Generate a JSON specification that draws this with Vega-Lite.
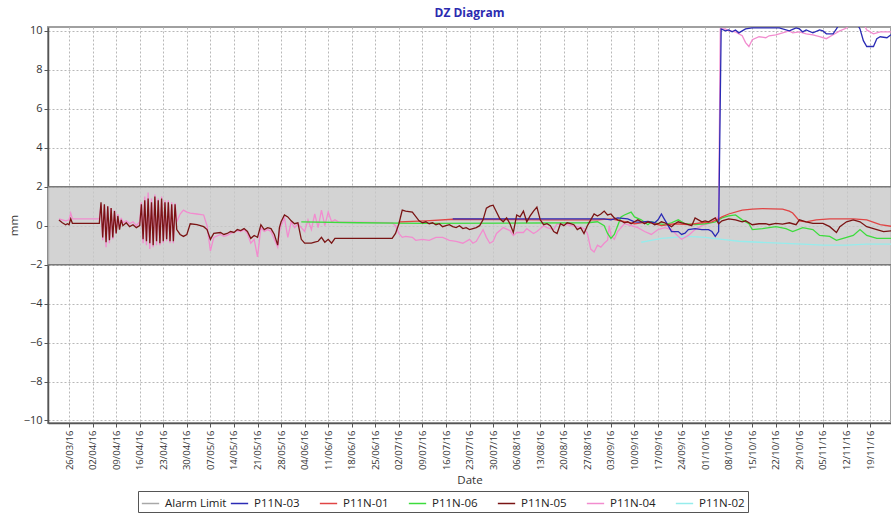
{
"$schema": "https://vega.github.io/schema/vega-lite/v6.json",
"width": 843, "height": 396,
"autosize": {"type": "none"},
"padding": {"left": 48, "top": 27, "right": 0, "bottom": 92},
"background": "white",
"config": {"font": "Open Sans", "view": {"stroke": "#a0a0a0", "strokeWidth": 2}, "axis": {"labelOverlap": false, "labelBound": false}},
"title": {"text": "DZ Diagram", "fontSize": 12, "fontWeight": "bold", "color": "#2b2bb0", "anchor": "middle", "offset": 5},
"datasets": {"series": [
{"s":"P11N-02","d":"2016-09-12","v":-0.85},{"s":"P11N-02","d":"2016-09-15","v":-0.75},{"s":"P11N-02","d":"2016-09-18","v":-0.65},{"s":"P11N-02","d":"2016-09-22","v":-0.6},{"s":"P11N-02","d":"2016-09-26","v":-0.55},{"s":"P11N-02","d":"2016-10-01","v":-0.6},{"s":"P11N-02","d":"2016-10-06","v":-0.7},{"s":"P11N-02","d":"2016-10-11","v":-0.8},{"s":"P11N-02","d":"2016-10-17","v":-0.85},{"s":"P11N-02","d":"2016-10-23","v":-0.9},{"s":"P11N-02","d":"2016-10-30","v":-0.95},{"s":"P11N-02","d":"2016-11-05","v":-1.0},{"s":"P11N-02","d":"2016-11-12","v":-1.0},{"s":"P11N-02","d":"2016-11-18","v":-0.95},{"s":"P11N-02","d":"2016-11-26","v":-0.95},
{"s":"P11N-04","d":"2016-03-23","v":0.35},{"s":"P11N-04","d":"2016-03-24","v":0.3},{"s":"P11N-04","d":"2016-03-25","v":0.25},{"s":"P11N-04","d":"2016-03-26","v":0.3},{"s":"P11N-04","d":"2016-03-26T12:00Z","v":0.65},{"s":"P11N-04","d":"2016-03-27","v":0.35},{"s":"P11N-04","d":"2016-04-04","v":0.35},{"s":"P11N-04","d":"2016-04-04T12:00Z","v":1.1},{"s":"P11N-04","d":"2016-04-05","v":-0.75},{"s":"P11N-04","d":"2016-04-05T12:00Z","v":1.05},{"s":"P11N-04","d":"2016-04-06","v":-1.1},{"s":"P11N-04","d":"2016-04-06T12:00Z","v":1.0},{"s":"P11N-04","d":"2016-04-07","v":-0.9},{"s":"P11N-04","d":"2016-04-07T12:00Z","v":0.9},{"s":"P11N-04","d":"2016-04-08","v":-0.7},{"s":"P11N-04","d":"2016-04-08T12:00Z","v":0.8},{"s":"P11N-04","d":"2016-04-09","v":-0.4},{"s":"P11N-04","d":"2016-04-09T12:00Z","v":0.6},{"s":"P11N-04","d":"2016-04-10","v":-0.1},{"s":"P11N-04","d":"2016-04-10T12:00Z","v":0.4},{"s":"P11N-04","d":"2016-04-11","v":0.15},{"s":"P11N-04","d":"2016-04-12","v":0.25},{"s":"P11N-04","d":"2016-04-13","v":0.1},{"s":"P11N-04","d":"2016-04-14","v":0.2},{"s":"P11N-04","d":"2016-04-15","v":0.0},{"s":"P11N-04","d":"2016-04-16","v":0.2},{"s":"P11N-04","d":"2016-04-16T12:00Z","v":1.2},{"s":"P11N-04","d":"2016-04-17","v":-0.9},{"s":"P11N-04","d":"2016-04-17T12:00Z","v":1.5},{"s":"P11N-04","d":"2016-04-18","v":-1.0},{"s":"P11N-04","d":"2016-04-18T12:00Z","v":1.7},{"s":"P11N-04","d":"2016-04-19","v":-1.2},{"s":"P11N-04","d":"2016-04-19T12:00Z","v":1.4},{"s":"P11N-04","d":"2016-04-20","v":-1.1},{"s":"P11N-04","d":"2016-04-20T12:00Z","v":1.6},{"s":"P11N-04","d":"2016-04-21","v":-1.0},{"s":"P11N-04","d":"2016-04-21T12:00Z","v":1.4},{"s":"P11N-04","d":"2016-04-22","v":-1.0},{"s":"P11N-04","d":"2016-04-22T12:00Z","v":1.5},{"s":"P11N-04","d":"2016-04-23","v":-0.9},{"s":"P11N-04","d":"2016-04-23T12:00Z","v":1.3},{"s":"P11N-04","d":"2016-04-24","v":-0.8},{"s":"P11N-04","d":"2016-04-24T12:00Z","v":1.3},{"s":"P11N-04","d":"2016-04-25","v":-0.9},{"s":"P11N-04","d":"2016-04-25T12:00Z","v":1.2},{"s":"P11N-04","d":"2016-04-26","v":-0.9},{"s":"P11N-04","d":"2016-04-26T12:00Z","v":1.15},{"s":"P11N-04","d":"2016-04-27","v":0.2},{"s":"P11N-04","d":"2016-04-28","v":0.6},{"s":"P11N-04","d":"2016-04-29","v":0.8},{"s":"P11N-04","d":"2016-04-30","v":0.7},{"s":"P11N-04","d":"2016-05-01","v":0.65},{"s":"P11N-04","d":"2016-05-03","v":0.6},{"s":"P11N-04","d":"2016-05-05","v":0.55},{"s":"P11N-04","d":"2016-05-06","v":0.0},{"s":"P11N-04","d":"2016-05-07","v":-1.3},{"s":"P11N-04","d":"2016-05-08","v":-0.6},{"s":"P11N-04","d":"2016-05-10","v":-0.45},{"s":"P11N-04","d":"2016-05-11","v":-0.55},{"s":"P11N-04","d":"2016-05-12","v":-0.5},{"s":"P11N-04","d":"2016-05-13","v":-0.4},{"s":"P11N-04","d":"2016-05-14","v":-0.35},{"s":"P11N-04","d":"2016-05-15","v":-0.25},{"s":"P11N-04","d":"2016-05-16","v":-0.3},{"s":"P11N-04","d":"2016-05-17","v":-0.2},{"s":"P11N-04","d":"2016-05-18","v":-0.4},{"s":"P11N-04","d":"2016-05-19","v":-0.9},{"s":"P11N-04","d":"2016-05-20","v":-0.7},{"s":"P11N-04","d":"2016-05-21","v":-1.6},{"s":"P11N-04","d":"2016-05-22","v":-0.1},{"s":"P11N-04","d":"2016-05-23","v":-0.3},{"s":"P11N-04","d":"2016-05-24","v":-0.2},{"s":"P11N-04","d":"2016-05-25","v":-0.3},{"s":"P11N-04","d":"2016-05-26","v":-0.7},{"s":"P11N-04","d":"2016-05-27","v":-1.1},{"s":"P11N-04","d":"2016-05-27T12:00Z","v":-0.3},{"s":"P11N-04","d":"2016-05-28","v":0.0},{"s":"P11N-04","d":"2016-05-29","v":0.4},{"s":"P11N-04","d":"2016-05-30","v":-0.6},{"s":"P11N-04","d":"2016-05-31","v":0.2},{"s":"P11N-04","d":"2016-06-01","v":-0.1},{"s":"P11N-04","d":"2016-06-02","v":0.1},{"s":"P11N-04","d":"2016-06-03","v":-0.1},{"s":"P11N-04","d":"2016-06-04","v":-0.3},{"s":"P11N-04","d":"2016-06-05","v":0.3},{"s":"P11N-04","d":"2016-06-06","v":-0.2},{"s":"P11N-04","d":"2016-06-07","v":0.6},{"s":"P11N-04","d":"2016-06-08","v":-0.1},{"s":"P11N-04","d":"2016-06-09","v":0.8},{"s":"P11N-04","d":"2016-06-10","v":0.0},{"s":"P11N-04","d":"2016-06-11","v":0.7},{"s":"P11N-04","d":"2016-06-12","v":0.2},{"s":"P11N-04","d":"2016-06-13","v":0.3},{"s":"P11N-04","d":"2016-06-14","v":0.2},{"s":"P11N-04","d":"2016-06-30","v":0.15},{"s":"P11N-04","d":"2016-07-01","v":0.0},{"s":"P11N-04","d":"2016-07-02","v":-0.4},{"s":"P11N-04","d":"2016-07-03","v":-0.6},{"s":"P11N-04","d":"2016-07-04","v":-0.55},{"s":"P11N-04","d":"2016-07-06","v":-0.6},{"s":"P11N-04","d":"2016-07-07","v":-0.75},{"s":"P11N-04","d":"2016-07-09","v":-0.7},{"s":"P11N-04","d":"2016-07-11","v":-0.75},{"s":"P11N-04","d":"2016-07-13","v":-0.6},{"s":"P11N-04","d":"2016-07-15","v":-0.6},{"s":"P11N-04","d":"2016-07-17","v":-0.75},{"s":"P11N-04","d":"2016-07-19","v":-0.8},{"s":"P11N-04","d":"2016-07-21","v":-0.9},{"s":"P11N-04","d":"2016-07-23","v":-0.7},{"s":"P11N-04","d":"2016-07-24","v":-0.9},{"s":"P11N-04","d":"2016-07-25","v":-0.8},{"s":"P11N-04","d":"2016-07-27","v":-0.2},{"s":"P11N-04","d":"2016-07-28","v":-0.6},{"s":"P11N-04","d":"2016-07-29","v":-0.9},{"s":"P11N-04","d":"2016-07-30","v":-0.8},{"s":"P11N-04","d":"2016-07-31","v":-0.4},{"s":"P11N-04","d":"2016-08-02","v":-0.1},{"s":"P11N-04","d":"2016-08-04","v":-0.25},{"s":"P11N-04","d":"2016-08-05","v":-0.5},{"s":"P11N-04","d":"2016-08-06","v":-0.35},{"s":"P11N-04","d":"2016-08-08","v":-0.35},{"s":"P11N-04","d":"2016-08-09","v":-0.15},{"s":"P11N-04","d":"2016-08-11","v":-0.4},{"s":"P11N-04","d":"2016-08-12","v":-0.3},{"s":"P11N-04","d":"2016-08-14","v":0.0},{"s":"P11N-04","d":"2016-08-15","v":-0.1},{"s":"P11N-04","d":"2016-08-17","v":-0.2},{"s":"P11N-04","d":"2016-08-18","v":0.1},{"s":"P11N-04","d":"2016-08-21","v":0.05},{"s":"P11N-04","d":"2016-08-24","v":-0.05},{"s":"P11N-04","d":"2016-08-26","v":-0.15},{"s":"P11N-04","d":"2016-08-27","v":-0.4},{"s":"P11N-04","d":"2016-08-28","v":-1.2},{"s":"P11N-04","d":"2016-08-29","v":-1.35},{"s":"P11N-04","d":"2016-08-30","v":-1.0},{"s":"P11N-04","d":"2016-08-31","v":-1.1},{"s":"P11N-04","d":"2016-09-01","v":-0.9},{"s":"P11N-04","d":"2016-09-02","v":-0.75},{"s":"P11N-04","d":"2016-09-02T12:00Z","v":0.0},{"s":"P11N-04","d":"2016-09-03","v":-0.5},{"s":"P11N-04","d":"2016-09-04","v":-0.7},{"s":"P11N-04","d":"2016-09-05","v":-0.3},{"s":"P11N-04","d":"2016-09-07","v":0.1},{"s":"P11N-04","d":"2016-09-09","v":0.0},{"s":"P11N-04","d":"2016-09-11","v":-0.1},{"s":"P11N-04","d":"2016-09-13","v":-0.3},{"s":"P11N-04","d":"2016-09-15","v":-0.45},{"s":"P11N-04","d":"2016-09-17","v":-0.2},{"s":"P11N-04","d":"2016-09-19","v":-0.1},{"s":"P11N-04","d":"2016-09-21","v":-0.2},{"s":"P11N-04","d":"2016-09-23","v":-0.55},{"s":"P11N-04","d":"2016-09-24","v":-0.7},{"s":"P11N-04","d":"2016-09-26","v":-0.5},{"s":"P11N-04","d":"2016-09-28","v":-0.2},{"s":"P11N-04","d":"2016-09-30","v":0.0},{"s":"P11N-04","d":"2016-10-02","v":0.1},{"s":"P11N-04","d":"2016-10-04","v":0.3},{"s":"P11N-04","d":"2016-10-05","v":0.5},{"s":"P11N-04","d":"2016-10-05T12:00Z","v":10.1},{"s":"P11N-04","d":"2016-10-07","v":10.1},{"s":"P11N-04","d":"2016-10-08","v":10.0},{"s":"P11N-04","d":"2016-10-10","v":9.95},{"s":"P11N-04","d":"2016-10-12","v":9.75},{"s":"P11N-04","d":"2016-10-13","v":9.4},{"s":"P11N-04","d":"2016-10-14","v":9.2},{"s":"P11N-04","d":"2016-10-15","v":9.55},{"s":"P11N-04","d":"2016-10-17","v":9.7},{"s":"P11N-04","d":"2016-10-19","v":9.65},{"s":"P11N-04","d":"2016-10-20","v":9.75},{"s":"P11N-04","d":"2016-10-22","v":9.8},{"s":"P11N-04","d":"2016-10-24","v":9.9},{"s":"P11N-04","d":"2016-10-26","v":10.0},{"s":"P11N-04","d":"2016-10-27","v":9.9},{"s":"P11N-04","d":"2016-10-29","v":9.95},{"s":"P11N-04","d":"2016-10-31","v":9.85},{"s":"P11N-04","d":"2016-11-02","v":9.8},{"s":"P11N-04","d":"2016-11-04","v":9.7},{"s":"P11N-04","d":"2016-11-06","v":9.6},{"s":"P11N-04","d":"2016-11-08","v":9.8},{"s":"P11N-04","d":"2016-11-10","v":10.0},{"s":"P11N-04","d":"2016-11-12","v":10.15},{"s":"P11N-04","d":"2016-11-13","v":10.4},{"s":"P11N-04","d":"2016-11-17","v":10.4},{"s":"P11N-04","d":"2016-11-18","v":10.05},{"s":"P11N-04","d":"2016-11-20","v":9.85},{"s":"P11N-04","d":"2016-11-22","v":9.95},{"s":"P11N-04","d":"2016-11-26","v":9.95},
{"s":"P11N-06","d":"2016-06-03","v":0.2},{"s":"P11N-06","d":"2016-06-20","v":0.15},{"s":"P11N-06","d":"2016-07-10","v":0.12},{"s":"P11N-06","d":"2016-08-27","v":0.15},{"s":"P11N-06","d":"2016-08-30","v":0.2},{"s":"P11N-06","d":"2016-09-01","v":0.0},{"s":"P11N-06","d":"2016-09-02","v":-0.4},{"s":"P11N-06","d":"2016-09-03","v":-0.65},{"s":"P11N-06","d":"2016-09-04","v":-0.45},{"s":"P11N-06","d":"2016-09-05","v":0.0},{"s":"P11N-06","d":"2016-09-06","v":0.45},{"s":"P11N-06","d":"2016-09-07","v":0.55},{"s":"P11N-06","d":"2016-09-09","v":0.7},{"s":"P11N-06","d":"2016-09-10","v":0.45},{"s":"P11N-06","d":"2016-09-12","v":0.3},{"s":"P11N-06","d":"2016-09-14","v":0.05},{"s":"P11N-06","d":"2016-09-15","v":0.2},{"s":"P11N-06","d":"2016-09-17","v":0.1},{"s":"P11N-06","d":"2016-09-19","v":0.05},{"s":"P11N-06","d":"2016-09-21","v":0.15},{"s":"P11N-06","d":"2016-09-23","v":0.3},{"s":"P11N-06","d":"2016-09-25","v":0.1},{"s":"P11N-06","d":"2016-09-28","v":0.05},{"s":"P11N-06","d":"2016-10-01","v":0.1},{"s":"P11N-06","d":"2016-10-04","v":0.2},{"s":"P11N-06","d":"2016-10-06","v":0.4},{"s":"P11N-06","d":"2016-10-08","v":0.5},{"s":"P11N-06","d":"2016-10-10","v":0.55},{"s":"P11N-06","d":"2016-10-12","v":0.3},{"s":"P11N-06","d":"2016-10-14","v":0.1},{"s":"P11N-06","d":"2016-10-15","v":-0.2},{"s":"P11N-06","d":"2016-10-18","v":-0.15},{"s":"P11N-06","d":"2016-10-22","v":-0.05},{"s":"P11N-06","d":"2016-10-25","v":-0.15},{"s":"P11N-06","d":"2016-10-27","v":-0.3},{"s":"P11N-06","d":"2016-10-30","v":-0.1},{"s":"P11N-06","d":"2016-11-02","v":-0.2},{"s":"P11N-06","d":"2016-11-04","v":-0.5},{"s":"P11N-06","d":"2016-11-07","v":-0.55},{"s":"P11N-06","d":"2016-11-09","v":-0.75},{"s":"P11N-06","d":"2016-11-11","v":-0.65},{"s":"P11N-06","d":"2016-11-14","v":-0.5},{"s":"P11N-06","d":"2016-11-16","v":-0.2},{"s":"P11N-06","d":"2016-11-18","v":-0.5},{"s":"P11N-06","d":"2016-11-21","v":-0.65},{"s":"P11N-06","d":"2016-11-26","v":-0.65},
{"s":"P11N-01","d":"2016-07-02","v":0.2},{"s":"P11N-01","d":"2016-07-10","v":0.25},{"s":"P11N-01","d":"2016-07-18","v":0.33},{"s":"P11N-01","d":"2016-08-15","v":0.3},{"s":"P11N-01","d":"2016-08-30","v":0.3},{"s":"P11N-01","d":"2016-09-03","v":0.35},{"s":"P11N-01","d":"2016-09-06","v":0.25},{"s":"P11N-01","d":"2016-09-10","v":0.1},{"s":"P11N-01","d":"2016-09-14","v":0.2},{"s":"P11N-01","d":"2016-09-18","v":0.0},{"s":"P11N-01","d":"2016-09-22","v":0.1},{"s":"P11N-01","d":"2016-09-26","v":0.05},{"s":"P11N-01","d":"2016-09-30","v":0.15},{"s":"P11N-01","d":"2016-10-03","v":0.2},{"s":"P11N-01","d":"2016-10-05","v":0.35},{"s":"P11N-01","d":"2016-10-06","v":0.45},{"s":"P11N-01","d":"2016-10-08","v":0.6},{"s":"P11N-01","d":"2016-10-12","v":0.8},{"s":"P11N-01","d":"2016-10-15","v":0.85},{"s":"P11N-01","d":"2016-10-18","v":0.88},{"s":"P11N-01","d":"2016-10-21","v":0.86},{"s":"P11N-01","d":"2016-10-24","v":0.85},{"s":"P11N-01","d":"2016-10-26","v":0.75},{"s":"P11N-01","d":"2016-10-27","v":0.65},{"s":"P11N-01","d":"2016-10-29","v":0.25},{"s":"P11N-01","d":"2016-10-31","v":0.2},{"s":"P11N-01","d":"2016-11-03","v":0.3},{"s":"P11N-01","d":"2016-11-07","v":0.35},{"s":"P11N-01","d":"2016-11-14","v":0.35},{"s":"P11N-01","d":"2016-11-18","v":0.3},{"s":"P11N-01","d":"2016-11-22","v":0.05},{"s":"P11N-01","d":"2016-11-26","v":-0.05},
{"s":"P11N-03","d":"2016-07-18","v":0.35},{"s":"P11N-03","d":"2016-08-30","v":0.35},{"s":"P11N-03","d":"2016-09-01","v":0.35},{"s":"P11N-03","d":"2016-09-03","v":0.3},{"s":"P11N-03","d":"2016-09-05","v":0.4},{"s":"P11N-03","d":"2016-09-08","v":0.35},{"s":"P11N-03","d":"2016-09-10","v":0.2},{"s":"P11N-03","d":"2016-09-12","v":0.18},{"s":"P11N-03","d":"2016-09-14","v":0.22},{"s":"P11N-03","d":"2016-09-16","v":0.15},{"s":"P11N-03","d":"2016-09-17","v":0.3},{"s":"P11N-03","d":"2016-09-18","v":0.6},{"s":"P11N-03","d":"2016-09-19","v":0.3},{"s":"P11N-03","d":"2016-09-20","v":0.0},{"s":"P11N-03","d":"2016-09-21","v":-0.3},{"s":"P11N-03","d":"2016-09-23","v":-0.3},{"s":"P11N-03","d":"2016-09-24","v":-0.45},{"s":"P11N-03","d":"2016-09-25","v":-0.38},{"s":"P11N-03","d":"2016-09-26","v":-0.2},{"s":"P11N-03","d":"2016-09-28","v":-0.15},{"s":"P11N-03","d":"2016-09-30","v":-0.2},{"s":"P11N-03","d":"2016-10-02","v":-0.2},{"s":"P11N-03","d":"2016-10-03","v":-0.3},{"s":"P11N-03","d":"2016-10-04","v":-0.55},{"s":"P11N-03","d":"2016-10-05","v":-0.3},{"s":"P11N-03","d":"2016-10-05T18:00Z","v":10.1},{"s":"P11N-03","d":"2016-10-07","v":10.0},{"s":"P11N-03","d":"2016-10-08","v":10.05},{"s":"P11N-03","d":"2016-10-09","v":9.95},{"s":"P11N-03","d":"2016-10-10","v":10.05},{"s":"P11N-03","d":"2016-10-11","v":9.9},{"s":"P11N-03","d":"2016-10-12","v":10.0},{"s":"P11N-03","d":"2016-10-13","v":10.1},{"s":"P11N-03","d":"2016-10-15","v":10.15},{"s":"P11N-03","d":"2016-10-19","v":10.15},{"s":"P11N-03","d":"2016-10-23","v":10.15},{"s":"P11N-03","d":"2016-10-26","v":10.0},{"s":"P11N-03","d":"2016-10-27","v":10.08},{"s":"P11N-03","d":"2016-10-28","v":10.15},{"s":"P11N-03","d":"2016-10-29","v":10.1},{"s":"P11N-03","d":"2016-10-30","v":9.95},{"s":"P11N-03","d":"2016-10-31","v":10.05},{"s":"P11N-03","d":"2016-11-02","v":9.9},{"s":"P11N-03","d":"2016-11-04","v":10.05},{"s":"P11N-03","d":"2016-11-05","v":10.0},{"s":"P11N-03","d":"2016-11-06","v":9.85},{"s":"P11N-03","d":"2016-11-08","v":9.85},{"s":"P11N-03","d":"2016-11-09","v":10.1},{"s":"P11N-03","d":"2016-11-10","v":10.4},{"s":"P11N-03","d":"2016-11-15","v":10.4},{"s":"P11N-03","d":"2016-11-16","v":10.1},{"s":"P11N-03","d":"2016-11-17","v":9.5},{"s":"P11N-03","d":"2016-11-18","v":9.2},{"s":"P11N-03","d":"2016-11-20","v":9.2},{"s":"P11N-03","d":"2016-11-21","v":9.6},{"s":"P11N-03","d":"2016-11-22","v":9.7},{"s":"P11N-03","d":"2016-11-24","v":9.65},{"s":"P11N-03","d":"2016-11-26","v":9.9},
{"s":"P11N-05","d":"2016-03-23","v":0.29},{"s":"P11N-05","d":"2016-03-24","v":0.15},{"s":"P11N-05","d":"2016-03-25","v":0.05},{"s":"P11N-05","d":"2016-03-25T12:00Z","v":0.1},{"s":"P11N-05","d":"2016-03-26","v":0.05},{"s":"P11N-05","d":"2016-03-26T12:00Z","v":0.35},{"s":"P11N-05","d":"2016-03-27","v":0.12},{"s":"P11N-05","d":"2016-04-04","v":0.12},{"s":"P11N-05","d":"2016-04-04T12:00Z","v":1.2},{"s":"P11N-05","d":"2016-04-05","v":-0.6},{"s":"P11N-05","d":"2016-04-05T12:00Z","v":1.1},{"s":"P11N-05","d":"2016-04-06","v":-0.85},{"s":"P11N-05","d":"2016-04-06T12:00Z","v":1.0},{"s":"P11N-05","d":"2016-04-07","v":-0.75},{"s":"P11N-05","d":"2016-04-07T12:00Z","v":0.9},{"s":"P11N-05","d":"2016-04-08","v":-0.6},{"s":"P11N-05","d":"2016-04-08T12:00Z","v":0.75},{"s":"P11N-05","d":"2016-04-09","v":-0.4},{"s":"P11N-05","d":"2016-04-09T12:00Z","v":0.5},{"s":"P11N-05","d":"2016-04-10","v":-0.2},{"s":"P11N-05","d":"2016-04-10T12:00Z","v":0.3},{"s":"P11N-05","d":"2016-04-11","v":0.0},{"s":"P11N-05","d":"2016-04-12","v":0.15},{"s":"P11N-05","d":"2016-04-13","v":-0.05},{"s":"P11N-05","d":"2016-04-14","v":0.05},{"s":"P11N-05","d":"2016-04-15","v":-0.1},{"s":"P11N-05","d":"2016-04-16","v":0.0},{"s":"P11N-05","d":"2016-04-16T12:00Z","v":1.1},{"s":"P11N-05","d":"2016-04-17","v":-0.7},{"s":"P11N-05","d":"2016-04-17T12:00Z","v":1.3},{"s":"P11N-05","d":"2016-04-18","v":-0.8},{"s":"P11N-05","d":"2016-04-18T12:00Z","v":1.4},{"s":"P11N-05","d":"2016-04-19","v":-0.9},{"s":"P11N-05","d":"2016-04-19T12:00Z","v":1.2},{"s":"P11N-05","d":"2016-04-20","v":-1.0},{"s":"P11N-05","d":"2016-04-20T12:00Z","v":1.5},{"s":"P11N-05","d":"2016-04-21","v":-0.8},{"s":"P11N-05","d":"2016-04-21T12:00Z","v":1.3},{"s":"P11N-05","d":"2016-04-22","v":-0.9},{"s":"P11N-05","d":"2016-04-22T12:00Z","v":1.4},{"s":"P11N-05","d":"2016-04-23","v":-0.8},{"s":"P11N-05","d":"2016-04-23T12:00Z","v":1.2},{"s":"P11N-05","d":"2016-04-24","v":-0.7},{"s":"P11N-05","d":"2016-04-24T12:00Z","v":1.2},{"s":"P11N-05","d":"2016-04-25","v":-0.8},{"s":"P11N-05","d":"2016-04-25T12:00Z","v":1.1},{"s":"P11N-05","d":"2016-04-26","v":-0.8},{"s":"P11N-05","d":"2016-04-26T12:00Z","v":1.1},{"s":"P11N-05","d":"2016-04-27","v":-0.2},{"s":"P11N-05","d":"2016-04-28","v":-0.45},{"s":"P11N-05","d":"2016-04-29","v":-0.55},{"s":"P11N-05","d":"2016-04-30","v":-0.45},{"s":"P11N-05","d":"2016-05-01","v":0.1},{"s":"P11N-05","d":"2016-05-03","v":0.05},{"s":"P11N-05","d":"2016-05-05","v":-0.05},{"s":"P11N-05","d":"2016-05-06","v":-0.2},{"s":"P11N-05","d":"2016-05-07","v":-0.7},{"s":"P11N-05","d":"2016-05-08","v":-0.4},{"s":"P11N-05","d":"2016-05-10","v":-0.35},{"s":"P11N-05","d":"2016-05-11","v":-0.45},{"s":"P11N-05","d":"2016-05-12","v":-0.4},{"s":"P11N-05","d":"2016-05-13","v":-0.3},{"s":"P11N-05","d":"2016-05-14","v":-0.35},{"s":"P11N-05","d":"2016-05-15","v":-0.2},{"s":"P11N-05","d":"2016-05-16","v":-0.25},{"s":"P11N-05","d":"2016-05-17","v":-0.15},{"s":"P11N-05","d":"2016-05-18","v":-0.3},{"s":"P11N-05","d":"2016-05-19","v":-0.65},{"s":"P11N-05","d":"2016-05-20","v":-0.5},{"s":"P11N-05","d":"2016-05-21","v":-0.6},{"s":"P11N-05","d":"2016-05-22","v":0.05},{"s":"P11N-05","d":"2016-05-23","v":-0.2},{"s":"P11N-05","d":"2016-05-24","v":-0.1},{"s":"P11N-05","d":"2016-05-25","v":-0.15},{"s":"P11N-05","d":"2016-05-26","v":-0.45},{"s":"P11N-05","d":"2016-05-27","v":-1.0},{"s":"P11N-05","d":"2016-05-27T12:00Z","v":-0.1},{"s":"P11N-05","d":"2016-05-28","v":0.2},{"s":"P11N-05","d":"2016-05-29","v":0.55},{"s":"P11N-05","d":"2016-05-30","v":0.45},{"s":"P11N-05","d":"2016-05-31","v":0.25},{"s":"P11N-05","d":"2016-06-01","v":0.1},{"s":"P11N-05","d":"2016-06-02","v":0.15},{"s":"P11N-05","d":"2016-06-03","v":-0.7},{"s":"P11N-05","d":"2016-06-04","v":-0.9},{"s":"P11N-05","d":"2016-06-06","v":-0.9},{"s":"P11N-05","d":"2016-06-07","v":-0.85},{"s":"P11N-05","d":"2016-06-08","v":-0.8},{"s":"P11N-05","d":"2016-06-09","v":-0.6},{"s":"P11N-05","d":"2016-06-10","v":-0.85},{"s":"P11N-05","d":"2016-06-11","v":-0.7},{"s":"P11N-05","d":"2016-06-12","v":-0.9},{"s":"P11N-05","d":"2016-06-13","v":-0.65},{"s":"P11N-05","d":"2016-06-15","v":-0.65},{"s":"P11N-05","d":"2016-06-30","v":-0.65},{"s":"P11N-05","d":"2016-07-01","v":-0.4},{"s":"P11N-05","d":"2016-07-02","v":0.1},{"s":"P11N-05","d":"2016-07-03","v":0.8},{"s":"P11N-05","d":"2016-07-04","v":0.75},{"s":"P11N-05","d":"2016-07-06","v":0.7},{"s":"P11N-05","d":"2016-07-08","v":0.25},{"s":"P11N-05","d":"2016-07-09","v":0.15},{"s":"P11N-05","d":"2016-07-10","v":0.2},{"s":"P11N-05","d":"2016-07-11","v":0.1},{"s":"P11N-05","d":"2016-07-12","v":0.15},{"s":"P11N-05","d":"2016-07-13","v":0.05},{"s":"P11N-05","d":"2016-07-14","v":0.1},{"s":"P11N-05","d":"2016-07-15","v":-0.05},{"s":"P11N-05","d":"2016-07-16","v":0.0},{"s":"P11N-05","d":"2016-07-17","v":0.05},{"s":"P11N-05","d":"2016-07-18","v":-0.05},{"s":"P11N-05","d":"2016-07-19","v":-0.1},{"s":"P11N-05","d":"2016-07-20","v":0.0},{"s":"P11N-05","d":"2016-07-21","v":-0.15},{"s":"P11N-05","d":"2016-07-22","v":-0.1},{"s":"P11N-05","d":"2016-07-23","v":-0.2},{"s":"P11N-05","d":"2016-07-24","v":-0.15},{"s":"P11N-05","d":"2016-07-25","v":-0.1},{"s":"P11N-05","d":"2016-07-26","v":0.0},{"s":"P11N-05","d":"2016-07-27","v":0.3},{"s":"P11N-05","d":"2016-07-28","v":0.9},{"s":"P11N-05","d":"2016-07-29","v":1.0},{"s":"P11N-05","d":"2016-07-30","v":1.05},{"s":"P11N-05","d":"2016-07-31","v":0.7},{"s":"P11N-05","d":"2016-08-01","v":0.35},{"s":"P11N-05","d":"2016-08-02","v":0.2},{"s":"P11N-05","d":"2016-08-03","v":0.4},{"s":"P11N-05","d":"2016-08-04","v":0.1},{"s":"P11N-05","d":"2016-08-05","v":-0.35},{"s":"P11N-05","d":"2016-08-06","v":0.55},{"s":"P11N-05","d":"2016-08-07","v":0.45},{"s":"P11N-05","d":"2016-08-08","v":0.75},{"s":"P11N-05","d":"2016-08-09","v":0.2},{"s":"P11N-05","d":"2016-08-10","v":0.5},{"s":"P11N-05","d":"2016-08-11","v":0.75},{"s":"P11N-05","d":"2016-08-12","v":0.95},{"s":"P11N-05","d":"2016-08-13","v":0.3},{"s":"P11N-05","d":"2016-08-14","v":0.05},{"s":"P11N-05","d":"2016-08-15","v":0.1},{"s":"P11N-05","d":"2016-08-16","v":0.0},{"s":"P11N-05","d":"2016-08-17","v":-0.3},{"s":"P11N-05","d":"2016-08-18","v":-0.4},{"s":"P11N-05","d":"2016-08-19","v":0.1},{"s":"P11N-05","d":"2016-08-20","v":0.0},{"s":"P11N-05","d":"2016-08-21","v":0.15},{"s":"P11N-05","d":"2016-08-22","v":0.1},{"s":"P11N-05","d":"2016-08-23","v":0.05},{"s":"P11N-05","d":"2016-08-24","v":-0.2},{"s":"P11N-05","d":"2016-08-25","v":-0.1},{"s":"P11N-05","d":"2016-08-26","v":-0.4},{"s":"P11N-05","d":"2016-08-27","v":0.0},{"s":"P11N-05","d":"2016-08-28","v":0.3},{"s":"P11N-05","d":"2016-08-29","v":0.6},{"s":"P11N-05","d":"2016-08-30","v":0.5},{"s":"P11N-05","d":"2016-08-31","v":0.6},{"s":"P11N-05","d":"2016-09-01","v":0.75},{"s":"P11N-05","d":"2016-09-02","v":0.55},{"s":"P11N-05","d":"2016-09-03","v":0.6},{"s":"P11N-05","d":"2016-09-04","v":0.4},{"s":"P11N-05","d":"2016-09-05","v":0.3},{"s":"P11N-05","d":"2016-09-06","v":0.25},{"s":"P11N-05","d":"2016-09-07","v":0.15},{"s":"P11N-05","d":"2016-09-08","v":0.2},{"s":"P11N-05","d":"2016-09-09","v":0.1},{"s":"P11N-05","d":"2016-09-10","v":0.2},{"s":"P11N-05","d":"2016-09-11","v":0.3},{"s":"P11N-05","d":"2016-09-12","v":0.2},{"s":"P11N-05","d":"2016-09-13","v":0.1},{"s":"P11N-05","d":"2016-09-14","v":0.2},{"s":"P11N-05","d":"2016-09-15","v":0.15},{"s":"P11N-05","d":"2016-09-16","v":0.05},{"s":"P11N-05","d":"2016-09-17","v":0.1},{"s":"P11N-05","d":"2016-09-18","v":0.2},{"s":"P11N-05","d":"2016-09-19","v":0.15},{"s":"P11N-05","d":"2016-09-20","v":0.05},{"s":"P11N-05","d":"2016-09-21","v":-0.05},{"s":"P11N-05","d":"2016-09-22","v":0.1},{"s":"P11N-05","d":"2016-09-23","v":0.2},{"s":"P11N-05","d":"2016-09-24","v":0.15},{"s":"P11N-05","d":"2016-09-25","v":0.1},{"s":"P11N-05","d":"2016-09-26","v":0.05},{"s":"P11N-05","d":"2016-09-27","v":0.0},{"s":"P11N-05","d":"2016-09-28","v":0.4},{"s":"P11N-05","d":"2016-09-29","v":0.3},{"s":"P11N-05","d":"2016-09-30","v":0.2},{"s":"P11N-05","d":"2016-10-01","v":0.25},{"s":"P11N-05","d":"2016-10-02","v":0.2},{"s":"P11N-05","d":"2016-10-03","v":0.3},{"s":"P11N-05","d":"2016-10-04","v":0.4},{"s":"P11N-05","d":"2016-10-05","v":0.1},{"s":"P11N-05","d":"2016-10-06","v":0.25},{"s":"P11N-05","d":"2016-10-07","v":0.3},{"s":"P11N-05","d":"2016-10-08","v":0.35},{"s":"P11N-05","d":"2016-10-10","v":0.3},{"s":"P11N-05","d":"2016-10-12","v":0.2},{"s":"P11N-05","d":"2016-10-13","v":0.25},{"s":"P11N-05","d":"2016-10-15","v":0.05},{"s":"P11N-05","d":"2016-10-17","v":0.1},{"s":"P11N-05","d":"2016-10-19","v":0.1},{"s":"P11N-05","d":"2016-10-20","v":0.05},{"s":"P11N-05","d":"2016-10-22","v":0.12},{"s":"P11N-05","d":"2016-10-24","v":0.08},{"s":"P11N-05","d":"2016-10-26","v":0.15},{"s":"P11N-05","d":"2016-10-28","v":0.05},{"s":"P11N-05","d":"2016-10-29","v":0.3},{"s":"P11N-05","d":"2016-10-31","v":0.2},{"s":"P11N-05","d":"2016-11-02","v":0.12},{"s":"P11N-05","d":"2016-11-05","v":0.12},{"s":"P11N-05","d":"2016-11-07","v":-0.05},{"s":"P11N-05","d":"2016-11-09","v":-0.35},{"s":"P11N-05","d":"2016-11-10","v":-0.05},{"s":"P11N-05","d":"2016-11-12","v":0.2},{"s":"P11N-05","d":"2016-11-14","v":0.3},{"s":"P11N-05","d":"2016-11-16","v":0.2},{"s":"P11N-05","d":"2016-11-18","v":-0.05},{"s":"P11N-05","d":"2016-11-19","v":-0.1},{"s":"P11N-05","d":"2016-11-21","v":-0.2},{"s":"P11N-05","d":"2016-11-23","v":-0.3},{"s":"P11N-05","d":"2016-11-26","v":-0.25}
]},
"encoding": {
"x": {"field": "d", "type": "temporal",
 "scale": {"type": "utc", "domain": [1458410400000, 1480050000000]},
 "axis": {"values": [1458950400000,1459555200000,1460160000000,1460764800000,1461369600000,1461974400000,1462579200000,1463184000000,1463788800000,1464393600000,1464998400000,1465603200000,1466208000000,1466812800000,1467417600000,1468022400000,1468627200000,1469232000000,1469836800000,1470441600000,1471046400000,1471651200000,1472256000000,1472860800000,1473465600000,1474070400000,1474675200000,1475280000000,1475884800000,1476489600000,1477094400000,1477699200000,1478304000000,1478908800000,1479513600000],
  "orient": "bottom", "format": "%d/%m/%y", "labelAngle": -90, "labelFontSize": 9.5, "labelColor": "#333", "labelPadding": 3, "labelOverlap": false, "labelFlush": false, "labelSeparation": 0,
  "title": "Date", "titleFontSize": 11.5, "titleFontWeight": "normal", "titleColor": "#333", "titlePadding": 5,
  "grid": true, "gridDash": [2, 2], "gridColor": "#b8b8b8", "domainColor": "#555", "domainWidth": 1.5, "tickColor": "#555", "tickSize": 4}},
"y": {"field": "v", "type": "quantitative",
 "scale": {"domain": [-10.13, 10.2], "nice": false, "zero": false},
 "axis": {"values": [-10, -8, -6, -4, -2, 0, 2, 4, 6, 8, 10], "orient": "left", "title": "mm", "titleFontSize": 11.5, "titleFontWeight": "normal", "titleColor": "#333", "titlePadding": 4, "labelOverlap": false, "labelSeparation": 0,
  "labelFontSize": 11, "labelColor": "#333", "grid": true, "gridDash": [2, 2], "gridColor": "#b8b8b8", "domainColor": "#555", "domainWidth": 1.5, "tickColor": "#555", "tickSize": 4}}
},
"layer": [
{
"data": {"values": [{"d": 1458000000000, "d2": 1481000000000, "v": -2, "v2": 2}]},
"mark": {"type": "rect", "clip": true, "fill": "#c8c8c8", "fillOpacity": 0.8, "stroke": "#7a7a7a", "strokeWidth": 1.5},
"encoding": {"x2": {"field": "d2"}, "y2": {"field": "v2"}}
},
{
"data": {"name": "series"},
"mark": {"type": "line", "clip": true, "strokeWidth": 1.3},
"encoding": {
"color": {"field": "s", "type": "nominal",
 "scale": {"domain": ["Alarm Limit", "P11N-03", "P11N-01", "P11N-06", "P11N-05", "P11N-04", "P11N-02"], "range": ["#a8a8a8", "#2b2bb5", "#e04545", "#3ddc3d", "#7a1414", "#f28ccf", "#96ecec"]},
 "legend": {"orient": "none", "legendX": 90, "legendY": 464, "direction": "horizontal", "title": null, "columns": 7, "gridAlign": "all",
  "strokeColor": "#555", "padding": 3, "labelFontSize": 11.5, "labelColor": "#222", "symbolSize": 300, "labelOffset": 5, "columnPadding": 0, "symbolStrokeWidth": 1.5}}
}
}
]
}
